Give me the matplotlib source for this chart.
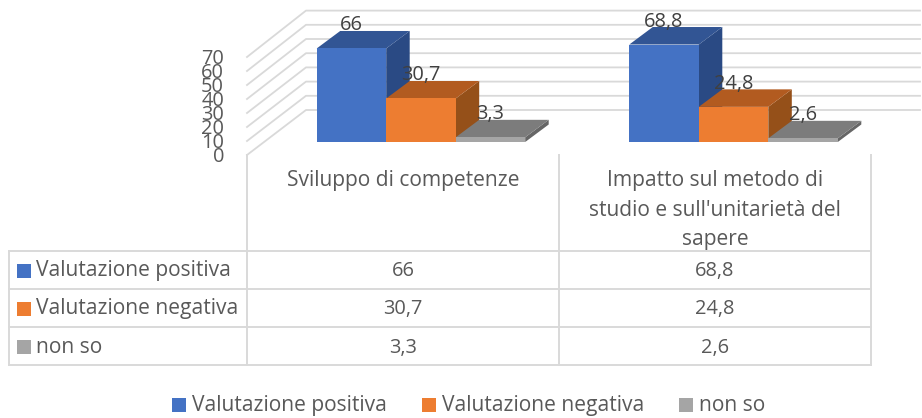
import matplotlib
matplotlib.use("Agg")
import matplotlib.pyplot as plt
from matplotlib.patches import Polygon, Rectangle

CATEGORIES = ["Sviluppo di competenze", "Impatto sul metodo di\nstudio e sull'unitarietà del\nsapere"]
SERIES = ["Valutazione positiva", "Valutazione negativa", "non so"]
POSITIVA = [66, 68.8]
NEGATIVA = [30.7, 24.8]
NON_SO = [3.3, 2.6]
Y_TICKS = [0, 10, 20, 30, 40, 50, 60, 70]

FRONT = ["#4472C4", "#ED7D31", "#A5A5A5"]
TOP = ["#325594", "#B25B20", "#7C7C7C"]
SIDE = ["#2A4A84", "#955019", "#666666"]
GRID = "#D9D9D9"
TEXT = "#595959"
LABEL = "#404040"

# layout in pixels of the 922x418 picture
BASE_Y = 142
UNIT = 1.417
BAR_W = 69.5
DEPTH_X, DEPTH_Y = 23.5, 17.5
GROUP_X = [316.7, 629.3]
COLS = [9, 247, 559, 871]
ROWS = [251, 289, 327, 365]
ROW_TEXT = [276, 314, 353]
FONT = 15.1
NUM_FONT = 14.4


def val_y(v):
    return BASE_Y - v * UNIT


def draw_bar(ax, x, v, i):
    y = val_y(v)
    w = BAR_W
    ax.add_patch(Polygon([(x + w, y), (x + w + DEPTH_X, y - DEPTH_Y),
                          (x + w + DEPTH_X, BASE_Y - DEPTH_Y), (x + w, BASE_Y)],
                         fc=SIDE[i], ec="none", zorder=3 + i))
    ax.add_patch(Polygon([(x, y), (x + DEPTH_X, y - DEPTH_Y),
                          (x + w + DEPTH_X, y - DEPTH_Y), (x + w, y)],
                         fc=TOP[i], ec="none", zorder=3 + i))
    ax.add_patch(Rectangle((x, y), w, BASE_Y - y, fc=FRONT[i], ec="none", zorder=3 + i))


def main():
    plt.rcParams["font.family"] = ["Open Sans", "DejaVu Sans"]
    fig = plt.figure(figsize=(9.22, 4.18), dpi=100)
    ax = fig.add_axes([0, 0, 1, 1])
    ax.set_xlim(0, 922)
    ax.set_ylim(418, 0)
    ax.axis("off")

    # back and side walls of the 3d box
    for t in Y_TICKS:
        y0 = 155 - t * 1.4
        y1 = 110 - t * 1.42
        ax.plot([247, 306, 920], [y0, y1, y1], color=GRID, lw=1.3, zorder=1)
        ax.text(224, 162.5 - t * 1.4, str(t), ha="right", va="baseline",
                fontsize=NUM_FONT, color=TEXT)

    all_vals = [POSITIVA, NEGATIVA, NON_SO]
    for g, gx in enumerate(GROUP_X):
        for i, vals in enumerate(all_vals):
            draw_bar(ax, gx + i * BAR_W, vals[g], i)
        for i, vals in enumerate(all_vals):
            ax.text(gx + (i + 0.5) * BAR_W, val_y(vals[g]) - 18, str(vals[g]).replace(".", ","),
                    ha="center", va="baseline", fontsize=NUM_FONT, color=LABEL, zorder=10)

    # data table
    for x in COLS:
        ax.plot([x, x], [155, ROWS[-1]] if x != COLS[0] else [ROWS[0], ROWS[-1]],
                color=GRID, lw=1.4, zorder=1)
    for y in ROWS:
        ax.plot([COLS[0], COLS[-1]], [y, y], color=GRID, lw=1.4, zorder=1)

    centers = [(COLS[1] + COLS[2]) / 2, (COLS[2] + COLS[3]) / 2]
    ax.text(centers[0], 186, CATEGORIES[0], ha="center", va="baseline", fontsize=FONT, color=TEXT)
    for k, line in enumerate(CATEGORIES[1].split("\n")):
        ax.text(centers[1], 186 + k * 29.7, line, ha="center", va="baseline",
                fontsize=FONT, color=TEXT)

    for i, (name, vals) in enumerate(zip(SERIES, all_vals)):
        yc = (ROWS[i] + ROWS[i + 1]) / 2
        ax.add_patch(Rectangle((17, yc - 7 + 0.5), 14, 14, fc=FRONT[i], ec="none"))
        ax.text(36, ROW_TEXT[i], name, ha="left", va="baseline", fontsize=FONT, color=TEXT)
        for g, c in enumerate(centers):
            ax.text(c, ROW_TEXT[i], str(vals[g]).replace(".", ","), ha="center", va="baseline",
                    fontsize=NUM_FONT, color=TEXT)

    # legend
    for name, sx, c in zip(SERIES, [172, 422, 679], FRONT):
        ax.add_patch(Rectangle((sx, 398), 14, 14, fc=c, ec="none"))
        ax.text(sx + 19.5, 411, name, ha="left", va="baseline", fontsize=FONT, color=TEXT)

    fig.savefig("out.png", dpi=100)
    plt.close(fig)


if __name__ == "__main__":
    main()
